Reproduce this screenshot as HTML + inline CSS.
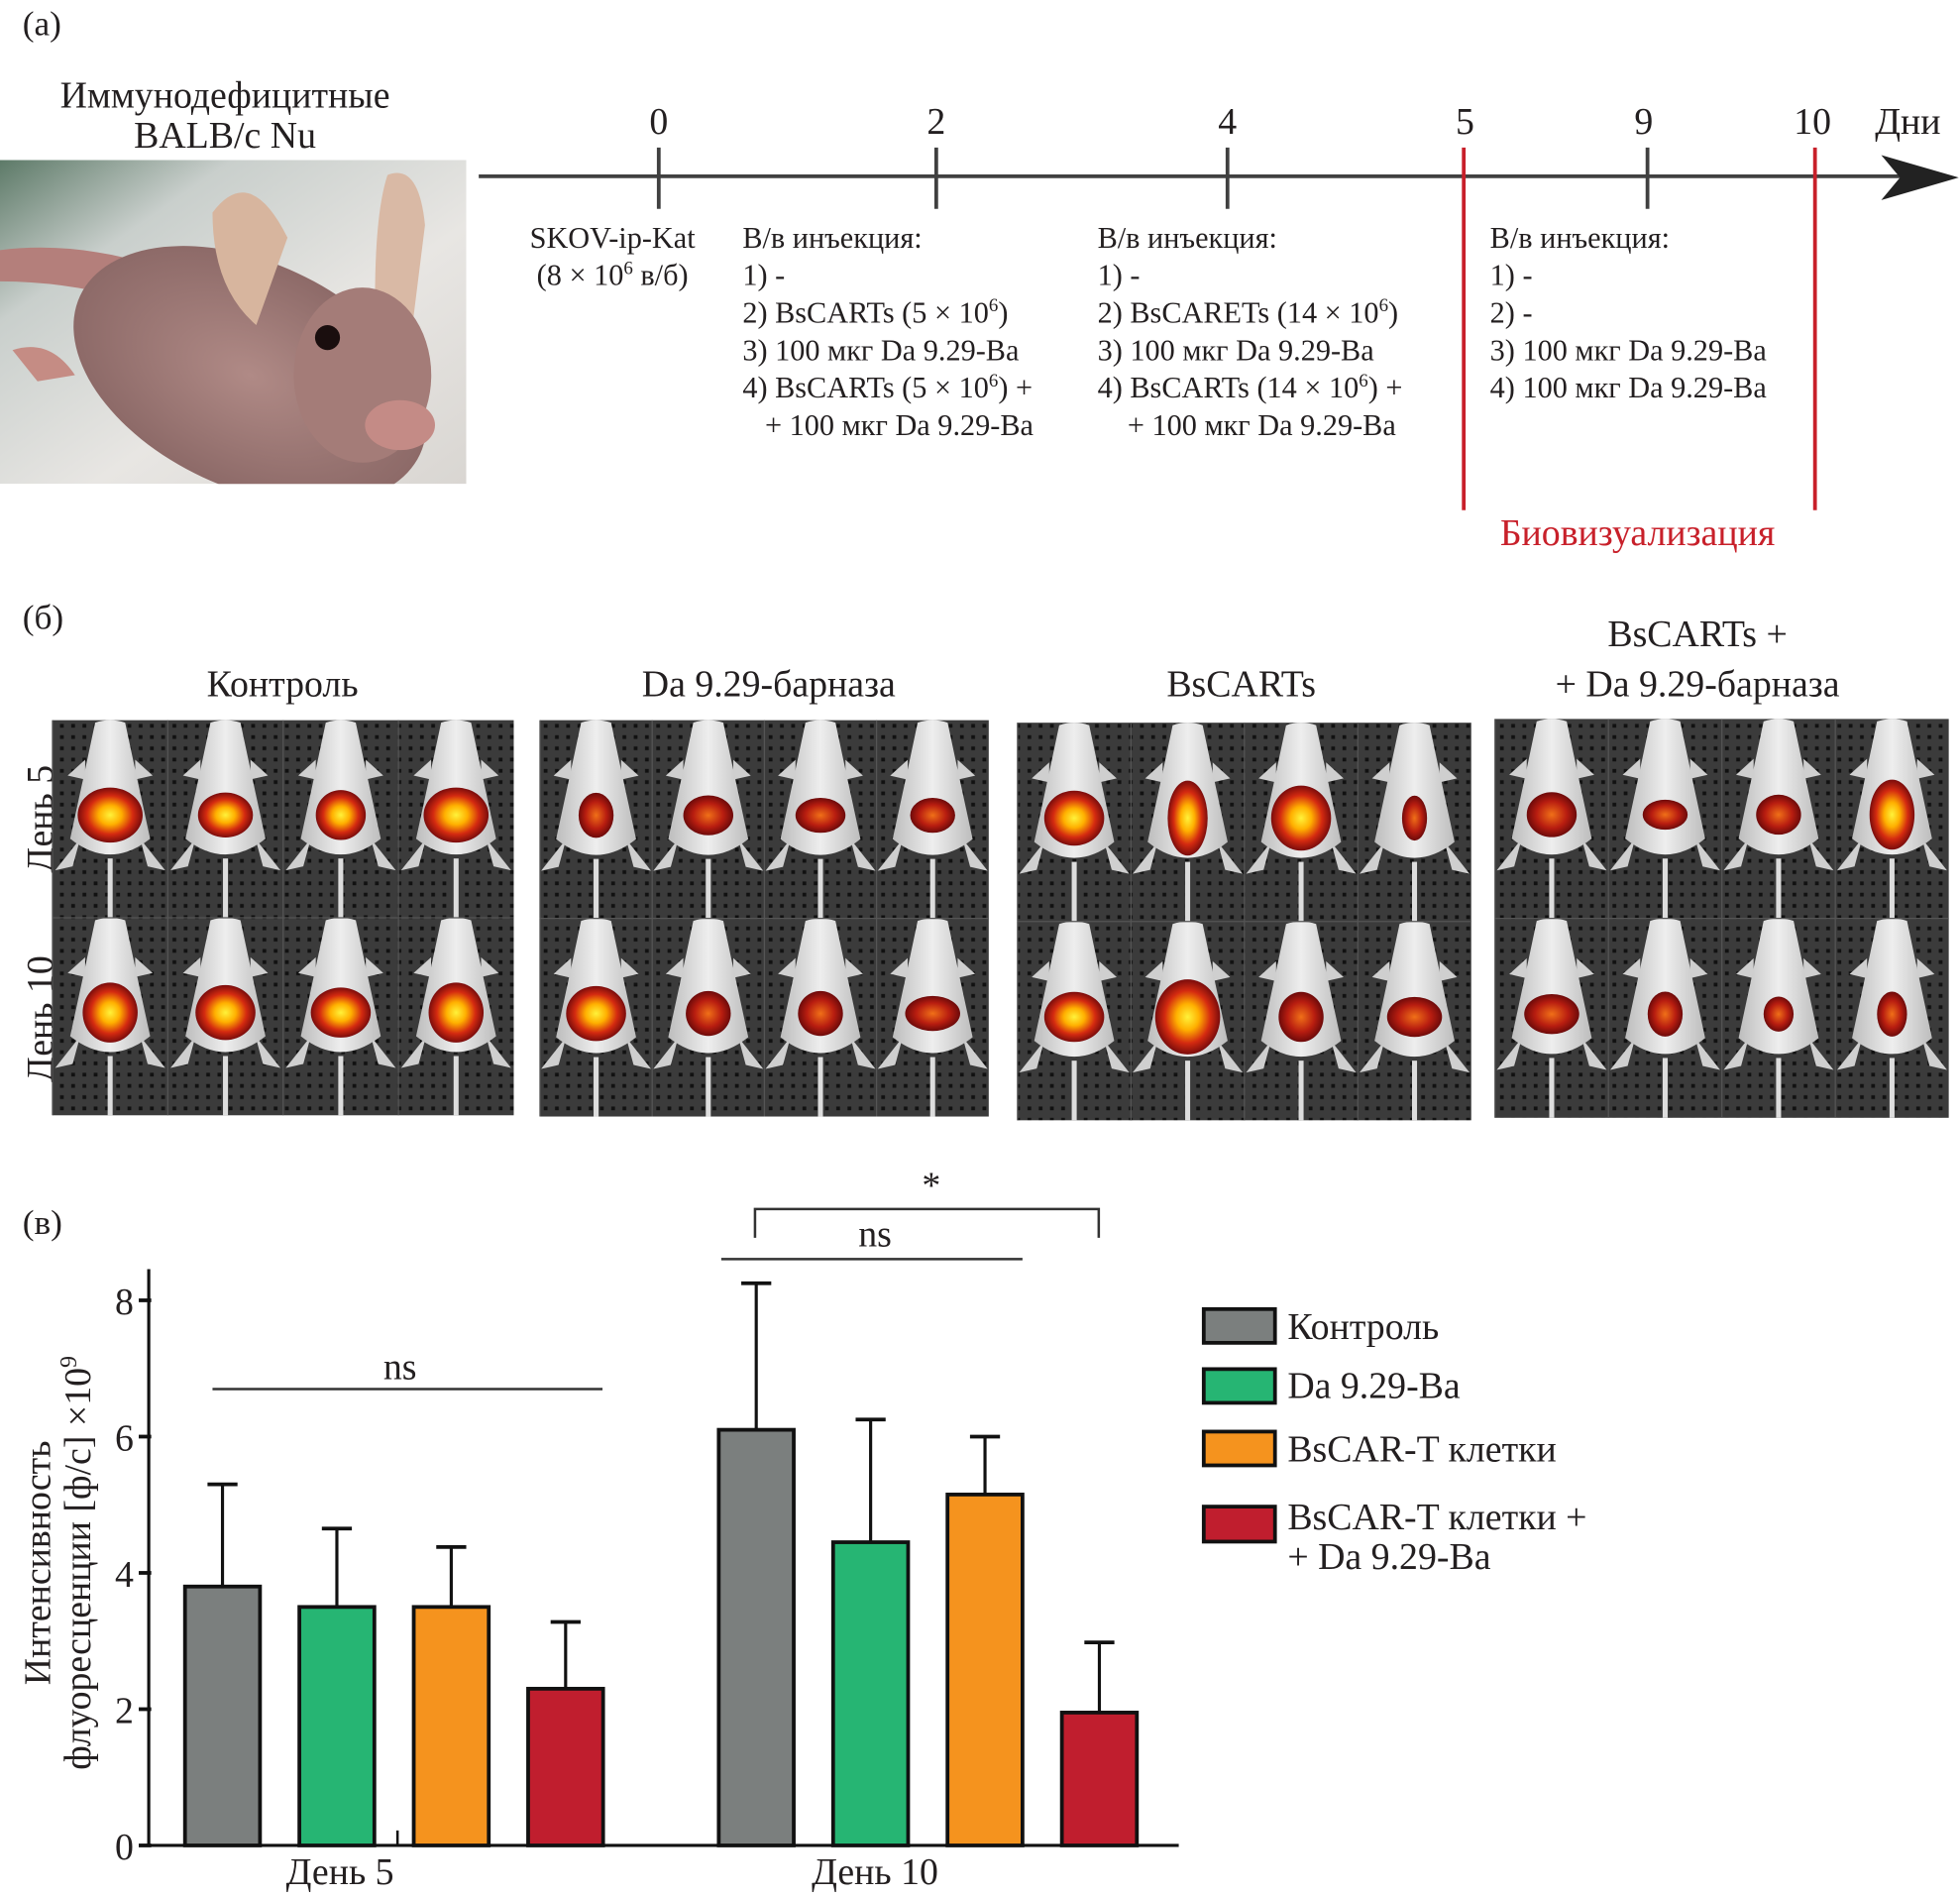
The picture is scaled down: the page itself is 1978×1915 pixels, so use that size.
<!DOCTYPE html>
<html><head><meta charset="utf-8">
<style>
html,body{margin:0;padding:0;background:#fff;}
svg{display:block;font-family:"Liberation Serif","Times New Roman",Times,serif;}
svg text{font-family:"Liberation Serif","Times New Roman",Times,serif;fill:#231f20;}
</style></head>
<body>
<svg id="fig" width="1978" height="1915" viewBox="0 0 1568 1518" xmlns="http://www.w3.org/2000/svg" font-family="Liberation Serif, serif">
<defs>
<linearGradient id="bgPhoto" x1="0" y1="0" x2="1" y2="1">
<stop offset="0" stop-color="#5d7a68"/><stop offset="0.25" stop-color="#c9cfcc"/><stop offset="0.6" stop-color="#e8e6e3"/><stop offset="1" stop-color="#d9d6d2"/>
</linearGradient>
<radialGradient id="skin" cx="0.5" cy="0.5" r="0.5">
<stop offset="0" stop-color="#b08a86"/><stop offset="1" stop-color="#8d6a68"/>
</radialGradient>
<radialGradient id="hot" cx="0.5" cy="0.5" r="0.5">
<stop offset="0" stop-color="#fff23a"/><stop offset="0.35" stop-color="#ffb000"/><stop offset="0.7" stop-color="#d42a10"/><stop offset="1" stop-color="#7a0c0c"/>
</radialGradient>
<radialGradient id="warm" cx="0.5" cy="0.5" r="0.5">
<stop offset="0" stop-color="#f07018"/><stop offset="0.6" stop-color="#b81d10"/><stop offset="1" stop-color="#6d0a0a"/>
</radialGradient>
<linearGradient id="body" x1="0" y1="0" x2="1" y2="0">
<stop offset="0" stop-color="#bdbdbd"/><stop offset="0.5" stop-color="#eeeeee"/><stop offset="1" stop-color="#bdbdbd"/>
</linearGradient>
<pattern id="holes" width="9" height="9" patternUnits="userSpaceOnUse">
<rect width="9" height="9" fill="#3b3b3b"/><rect x="3" y="3" width="3" height="3" fill="#111"/>
</pattern>
<clipPath id="photoClip"><rect x="0" y="128" width="373" height="259"/></clipPath>
</defs>

<text x="18" y="28" font-size="28">(а)</text>
<text x="180" y="86" font-size="30" text-anchor="middle">Иммунодефицитные</text>
<text x="180" y="118" font-size="30" text-anchor="middle">BALB/c Nu</text>

<g clip-path="url(#photoClip)">
<rect x="0" y="128" width="373" height="259" fill="url(#bgPhoto)"/>
<path d="M0 200 Q80 190 170 230 L165 260 Q80 225 0 225 Z" fill="#b47f7b"/>
<ellipse cx="200" cy="300" rx="150" ry="90" fill="url(#skin)" transform="rotate(25 200 300)"/>
<path d="M170 170 Q200 130 230 190 L205 260 Q170 230 170 170Z" fill="#d7b59e"/>
<path d="M310 140 Q335 130 340 180 L330 260 L300 240 Q300 170 310 140Z" fill="#d9b9a5"/>
<ellipse cx="290" cy="300" rx="55" ry="70" fill="#a47c78"/>
<circle cx="262" cy="270" r="10" fill="#1a0e0e"/>
<ellipse cx="320" cy="340" rx="28" ry="20" fill="#c48b86"/>
<path d="M10 280 Q40 270 60 300 L30 305 Z" fill="#c58c84"/>
</g>

<g>
<line x1="383" y1="141" x2="1520" y2="141" stroke="#404040" stroke-width="3"/>
<path d="M1505 124 L1567 142 L1505 160 L1520 142 Z" fill="#222"/>
<g stroke="#404040" stroke-width="3">
<line x1="527" y1="118" x2="527" y2="167"/>
<line x1="749" y1="118" x2="749" y2="167"/>
<line x1="982" y1="118" x2="982" y2="167"/>
<line x1="1318" y1="118" x2="1318" y2="167"/>
</g>
<g stroke="#c8202a" stroke-width="3">
<line x1="1171" y1="118" x2="1171" y2="408"/>
<line x1="1452" y1="118" x2="1452" y2="408"/>
</g>
<g font-size="30" text-anchor="middle">
<text x="527" y="107">0</text><text x="749" y="107">2</text><text x="982" y="107">4</text>
<text x="1172" y="107">5</text><text x="1315" y="107">9</text><text x="1450" y="107">10</text>
</g>
<text x="1500" y="107" font-size="30">Дни</text>
<text x="1310" y="436" font-size="30" style="fill:#c8202a" text-anchor="middle">Биовизуализация</text>
</g>

<g font-size="24">
<text x="490" y="198" text-anchor="middle">SKOV-ip-Kat</text>
<text x="490" y="228" text-anchor="middle">(8 × 10<tspan font-size="15" dy="-9">6</tspan><tspan dy="9"> в/б)</tspan></text>
<text x="594" y="198">В/в инъекция:</text>
<text x="594" y="228">1) -</text>
<text x="594" y="258">2) BsCARTs (5 × 10<tspan font-size="15" dy="-9">6</tspan><tspan dy="9">)</tspan></text>
<text x="594" y="288">3) 100 мкг Da 9.29-Ba</text>
<text x="594" y="318">4) BsCARTs (5 × 10<tspan font-size="15" dy="-9">6</tspan><tspan dy="9">) +</tspan></text>
<text x="612" y="348">+ 100 мкг Da 9.29-Ba</text>
<text x="878" y="198">В/в инъекция:</text>
<text x="878" y="228">1) -</text>
<text x="878" y="258">2) BsCARETs (14 × 10<tspan font-size="15" dy="-9">6</tspan><tspan dy="9">)</tspan></text>
<text x="878" y="288">3) 100 мкг Da 9.29-Ba</text>
<text x="878" y="318">4) BsCARTs (14 × 10<tspan font-size="15" dy="-9">6</tspan><tspan dy="9">) +</tspan></text>
<text x="902" y="348">+ 100 мкг Da 9.29-Ba</text>
<text x="1192" y="198">В/в инъекция:</text>
<text x="1192" y="228">1) -</text>
<text x="1192" y="258">2) -</text>
<text x="1192" y="288">3) 100 мкг Da 9.29-Ba</text>
<text x="1192" y="318">4) 100 мкг Da 9.29-Ba</text>
</g>

<text x="18" y="503" font-size="28">(б)</text>
<g font-size="30" text-anchor="middle">
<text x="226" y="557">Контроль</text>
<text x="615" y="557">Da 9.29-барназа</text>
<text x="993" y="557">BsCARTs</text>
<text x="1358" y="517">BsCARTs +</text>
<text x="1358" y="557">+ Da 9.29-барназа</text>
</g>
<text transform="translate(42 655) rotate(-90)" font-size="30" text-anchor="middle">День 5</text>
<text transform="translate(42 815) rotate(-90)" font-size="30" text-anchor="middle">День 10</text>
<g id="imaging"></g>

<text x="18" y="987" font-size="28">(в)</text>
<g id="chart"></g>

<g font-size="30">
<rect x="963" y="1047" width="57" height="27" fill="#7b7f7e" stroke="#111" stroke-width="3"/>
<text x="1030" y="1071">Контроль</text>
<rect x="963" y="1095" width="57" height="27" fill="#26b573" stroke="#111" stroke-width="3"/>
<text x="1030" y="1118">Da 9.29-Ba</text>
<rect x="963" y="1145" width="57" height="27" fill="#f5931e" stroke="#111" stroke-width="3"/>
<text x="1030" y="1169">BsCAR-T клетки</text>
<rect x="963" y="1205" width="57" height="28" fill="#c01e2e" stroke="#111" stroke-width="3"/>
<text x="1030" y="1223">BsCAR-T клетки +</text>
<text x="1030" y="1255">+ Da 9.29-Ba</text>
</g>
</svg>

<script>
const categories = ["День 5", "День 10"];
const seriesNames = ["Контроль", "Da 9.29-Ba", "BsCAR-T клетки", "BsCAR-T клетки + Da 9.29-Ba"];
const controlValues = [3.8, 6.1];
const daValues = [3.5, 4.45];
const carValues = [3.5, 5.15];
const comboValues = [2.3, 1.95];
const controlErr = [5.3, 8.25];
const daErr = [4.65, 6.25];
const carErr = [4.38, 6.0];
const comboErr = [3.28, 2.98];
const yTicks = [0, 2, 4, 6, 8];

const NS = "http://www.w3.org/2000/svg";
const chart = document.getElementById('chart');
function mk(tag, attrs, parent) {
  const e = document.createElementNS(NS, tag);
  for (const k in attrs) e.setAttribute(k, attrs[k]);
  (parent || chart).appendChild(e);
  return e;
}
const y0 = 1476, unitPx = 54.5;
function yScale(v) { return y0 - v * unitPx; }
const groupStart = [148, 575], barStep = 91.5, barW = 60;
function xScale(ci, si) { return groupStart[ci] + si * barStep; }

const colors = ["#7b7f7e", "#26b573", "#f5931e", "#c01e2e"];
const vals = [controlValues, daValues, carValues, comboValues];
const errs = [controlErr, daErr, carErr, comboErr];

let ax = mk('line', {x1:119, y1:1015, x2:119, y2:y0, stroke:'#111', 'stroke-width':2.5});


let xa = mk('line', {x1:118, y1:y0, x2:943, y2:y0, stroke:'#111', 'stroke-width':2.5});


yTicks.forEach(t => {
  const y = yScale(t);
  const tk = mk('line', {x1:111, y1:y, x2:121, y2:y, stroke:'#111', 'stroke-width':3});
  
  
  const tl = mk('text', {x:107, y:y + 11, 'font-size':30, 'text-anchor':'end'});
  tl.textContent = t;
  
  
});
[318, 700].forEach((cx, i) => {
  const s = mk('line', {x1:cx, y1:y0 - 12, x2:cx, y2:y0, stroke:'#111', 'stroke-width':2});
  
  
  const l = mk('text', {x: i === 0 ? 272 : 700, y:1507, 'font-size':30, 'text-anchor':'middle'});
  l.textContent = categories[i];
  
  
});

for (let ci = 0; ci < categories.length; ci++) {
  for (let si = 0; si < 4; si++) {
    const x = xScale(ci, si), v = vals[si][ci], e = errs[si][ci];
    const cx = x + barW / 2;
    const el = mk('line', {x1:cx, y1:yScale(e), x2:cx, y2:yScale(v), stroke:'#111', 'stroke-width':2.5});
    
    
    const cap = mk('line', {x1:cx - 12, y1:yScale(e), x2:cx + 12, y2:yScale(e), stroke:'#111', 'stroke-width':3});
    
    
    const r = mk('rect', {x:x, y:yScale(v), width:barW, height:y0 - yScale(v), fill:colors[si], stroke:'#111', 'stroke-width':3});
    
    
  }
}

let s1 = mk('line', {x1:170, y1:1111, x2:482, y2:1111, stroke:'#333', 'stroke-width':2});


let t1 = mk('text', {x:320, y:1103, 'font-size':30, 'text-anchor':'middle'}); t1.textContent = 'ns';


let s2 = mk('line', {x1:577, y1:1007, x2:818, y2:1007, stroke:'#333', 'stroke-width':2});


let t2 = mk('text', {x:700, y:997, 'font-size':30, 'text-anchor':'middle'}); t2.textContent = 'ns';


let br = mk('path', {d:'M604 990 L604 967 L879 967 L879 990', fill:'none', stroke:'#333', 'stroke-width':2});


let st = mk('text', {x:745, y:958, 'font-size':30, 'text-anchor':'middle'}); st.textContent = '*';



let yt1 = mk('text', {transform:'translate(40 1250) rotate(-90)', 'font-size':30, 'text-anchor':'middle'});
yt1.textContent = 'Интенсивность';


let yt2 = mk('text', {transform:'translate(72 1250) rotate(-90)', 'font-size':30, 'text-anchor':'middle'});
yt2.innerHTML = 'флуоресценции [ф/с] ×10<tspan font-size="19" dy="-11">9</tspan>';



const img = document.getElementById('imaging');
const panels = [[42, 576, 369, 316], [432, 576, 359, 317], [814, 578, 363, 318], [1196, 575, 363, 319]];
const blobSize = [[[26,22],[22,18],[20,20],[26,22]],[[14,18],[20,16],[20,14],[18,14]],[[24,22],[16,30],[24,26],[10,18]],[[20,18],[18,12],[18,16],[18,28]],
                  [[22,24],[24,22],[24,20],[22,24]],[[24,22],[18,18],[18,18],[22,14]],[[24,20],[26,30],[18,20],[22,16]],[[22,16],[14,18],[12,14],[12,18]]];
panels.forEach((p, pi) => {
  const g = document.createElementNS(NS, 'g');
  img.appendChild(g);
  
  
  const [px, py, pw, ph] = p;
  mk('rect', {x:px, y:py, width:pw, height:ph, fill:'url(#holes)'}, g);
  const cw = pw / 4, rh = ph / 2;
  for (let r = 0; r < 2; r++) {
    for (let c = 0; c < 4; c++) {
      const cx = px + cw * c + cw / 2, top = py + rh * r;
      mk('line', {x1:px + cw * c, y1:top, x2:px + cw * c, y2:top + rh, stroke:'#555', 'stroke-width':1}, g);
      mk('rect', {x:cx - 2, y:top + rh * 0.7, width:4, height:rh * 0.3, fill:'#ddd'}, g);
      // legs
      mk('path', {d:`M${cx - 24} ${top + rh * 0.6} L${cx - 44} ${top + rh * 0.76} L${cx - 30} ${top + rh * 0.74} Z M${cx + 24} ${top + rh * 0.6} L${cx + 44} ${top + rh * 0.76} L${cx + 30} ${top + rh * 0.74} Z M${cx - 20} ${top + rh * 0.2} L${cx - 34} ${top + rh * 0.28} L${cx - 20} ${top + rh * 0.3} Z M${cx + 20} ${top + rh * 0.2} L${cx + 34} ${top + rh * 0.28} L${cx + 20} ${top + rh * 0.3} Z`, fill:'#cfcfcf'}, g);
      // body
      mk('path', {d:`M${cx - 12} ${top + 2} Q${cx} ${top - 2} ${cx + 12} ${top + 2} L${cx + 20} ${top + rh * 0.25} L${cx + 32} ${top + rh * 0.6} Q${cx} ${top + rh * 0.76} ${cx - 32} ${top + rh * 0.6} L${cx - 20} ${top + rh * 0.25} Z`, fill:'url(#body)'}, g);
      const b = blobSize[pi + r * 4][c];
      mk('ellipse', {cx:cx, cy:top + rh * 0.48, rx:b[0], ry:b[1], fill: (b[0] * b[1] > 380 ? 'url(#hot)' : 'url(#warm)')}, g);
    }
  }
  mk('line', {x1:px, y1:py + rh, x2:px + pw, y2:py + rh, stroke:'#555', 'stroke-width':1}, g);
});
</script>
</body></html>
